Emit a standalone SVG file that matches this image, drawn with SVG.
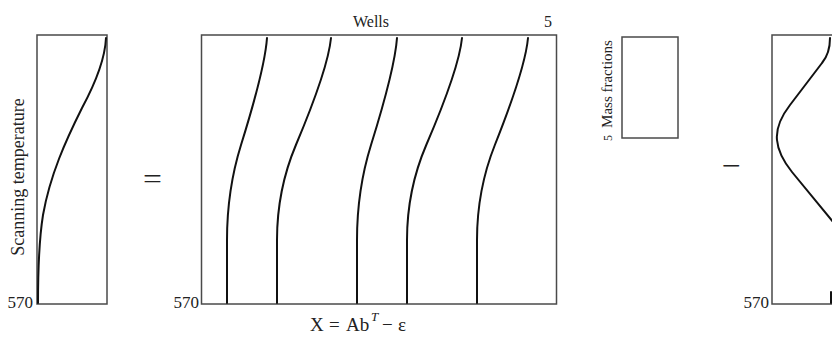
<svg xmlns="http://www.w3.org/2000/svg" width="832" height="337" viewBox="0 0 832 337">
<style>
.frame{fill:none;stroke:#4a4a4a;stroke-width:1.5}
.curve{fill:none;stroke:#111;stroke-width:2;stroke-linecap:round;stroke-linejoin:round}
text{font-family:"Liberation Serif","Times New Roman",serif;fill:#222}
.lbl{font-size:16px}
.op{font-size:28px}
</style>
<rect width="832" height="337" fill="#fff"/>
<g id="temperature-profile">
<rect class="frame" x="37" y="35" width="70" height="269"/>
<path class="curve" d="M106,38 C105,60 96,82 82,108 C66,140 50,175 43,215 C39,240 38,270 38,303"/>
<text style="font-size:18px" transform="translate(24,177) rotate(-90)" text-anchor="middle">Scanning temperature</text>
<text class="lbl" x="33" y="308" text-anchor="end" style="font-size:17px">570</text>
</g>
<g id="equals"><text class="op" transform="translate(152.5,187.5) scale(1.2,1)" text-anchor="middle">=</text></g>
<g id="wells-matrix">
<rect class="frame" x="201.5" y="35" width="355" height="269"/>
<path class="curve" d="M267,38 c-2,28 -16,75 -26,107 s-14,65 -14,95 V303"/>
<path class="curve" d="M331,38 c-2.7,28 -21.6,75 -35.1,107 s-18.9,65 -18.9,95 V303"/>
<path class="curve" d="M397,38 c-2,28 -16,75 -26,107 s-14,65 -14,95 V303"/>
<path class="curve" d="M462,38 c-2.75,28 -22,75 -35.75,107 s-19.25,65 -19.25,95 V303"/>
<path class="curve" d="M528,38 c-2.55,28 -20.4,75 -33.15,107 s-17.85,65 -17.85,95 V303"/>
<text class="lbl" x="371" y="26.5" text-anchor="middle">Wells</text>
<text class="lbl" x="552" y="26.5" text-anchor="end">5</text>
<text class="lbl" x="199" y="308" text-anchor="end" style="font-size:17px">570</text>
</g>
<g id="mass-fractions">
<rect class="frame" x="622" y="37" width="56" height="101"/>
<text style="font-size:15px" transform="translate(612,84) rotate(-90)" text-anchor="middle">Mass fractions</text>
<text style="font-size:12px" transform="translate(612,138) rotate(-90)" text-anchor="middle">5</text>
</g>
<g id="minus"><text class="op" transform="translate(731.5,175) scale(1.2,1)" text-anchor="middle">−</text></g>
<g id="error-profile">
<rect class="frame" x="772" y="35" width="80" height="269"/>
<path class="curve" d="M830,38 C830,50 827,57 822,63 L790,105 C780,118 776,130 777,140 C778,152 784,162 792,172 L834,223"/>
<path class="curve" d="M831,292 V303"/>
<text class="lbl" x="769" y="308" text-anchor="end" style="font-size:17px">570</text>
</g>
<g id="connectors"></g>
<g id="equation" style="font-size:19px">
<text x="310" y="331">X</text>
<text x="329" y="331">=</text>
<text x="346" y="331">Ab</text>
<text x="371" y="321" style="font-size:13px;font-style:italic">T</text>
<text x="382" y="331">−</text>
<text x="398" y="331">ε</text>
</g>
</svg>
